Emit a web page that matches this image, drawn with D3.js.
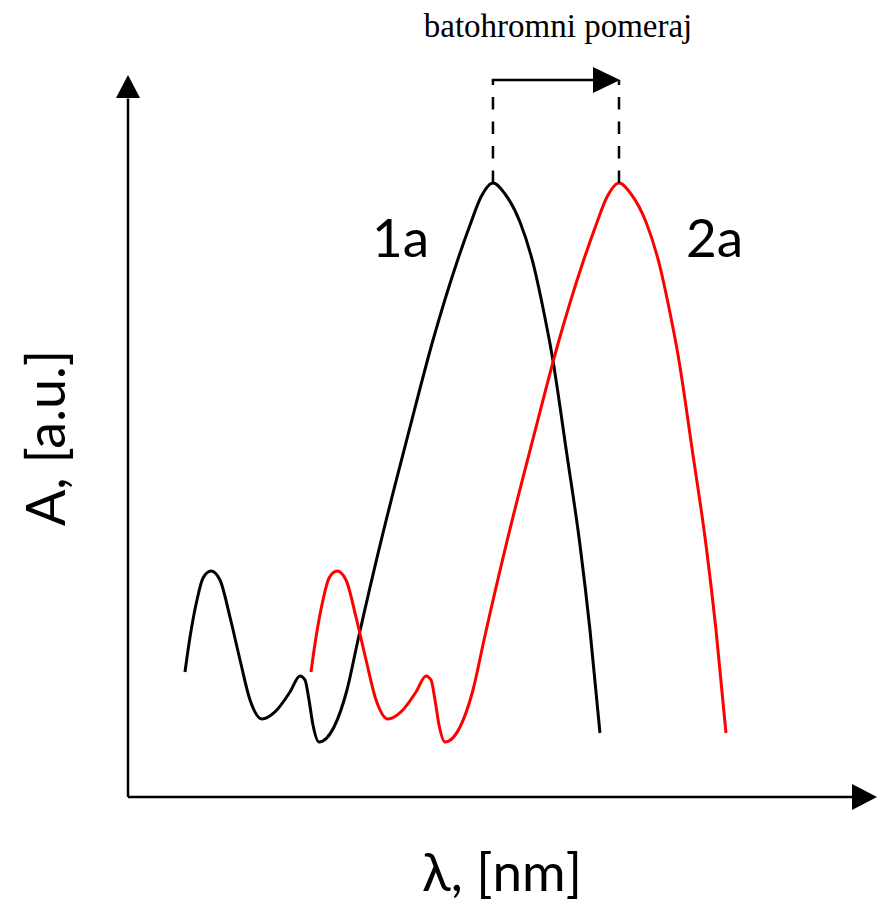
<!DOCTYPE html>
<html>
<head>
<meta charset="utf-8">
<script src="https://cdn.jsdelivr.net/npm/d3@7"></script>
<style>
  body { margin: 0; background: #fff; }
  text { fill: #000; }
</style>
</head>
<body>
<svg id="chart" width="885" height="908"></svg>
<script>
// spectrum 1a (black)
const lambda1a = [7.70, 8.38, 9.32, 10.14, 11.22, 12.43, 13.78, 15.14, 16.49, 18.11, 19.86, 21.89, 23.24, 23.92, 24.46, 25.00, 25.81, 27.84, 29.59, 31.08, 34.46, 37.84, 41.22, 44.46, 46.22, 47.70, 49.32, 50.95, 52.97, 54.73, 56.08, 57.30, 59.32, 61.08, 62.43, 63.78];
const abs1a    = [17.36, 22.22, 27.36, 30.42, 31.39, 30.14, 25.00, 19.03, 13.47, 10.83, 11.81, 14.58, 16.81, 16.25, 13.47, 10.00, 7.64, 9.72, 14.86, 21.81, 36.67, 50.28, 63.47, 74.31, 79.44, 83.33, 85.28, 83.75, 79.86, 74.17, 67.92, 61.39, 47.50, 35.00, 23.19, 8.89];

// spectrum 2a (red)
const lambda2a = [24.73, 25.41, 26.35, 27.17, 28.25, 29.46, 30.81, 32.17, 33.52, 35.14, 36.89, 38.92, 40.27, 40.95, 41.49, 42.03, 42.84, 44.87, 46.62, 48.11, 51.49, 54.87, 58.25, 61.49, 63.25, 64.73, 66.35, 67.98, 70.00, 71.76, 73.11, 74.33, 76.35, 78.11, 79.46, 80.81];
const abs2a    = [17.36, 22.22, 27.36, 30.42, 31.39, 30.14, 25.00, 19.03, 13.47, 10.83, 11.81, 14.58, 16.81, 16.25, 13.47, 10.00, 7.64, 9.72, 14.86, 21.81, 36.67, 50.28, 63.47, 74.31, 79.44, 83.33, 85.28, 83.75, 79.86, 74.17, 67.92, 61.39, 47.50, 35.00, 23.19, 8.89];

const seriesNames = ["1a", "2a"];
const seriesColors = ["#000000", "#ff0000"];
const xLabel = "λ, [nm]";
const yLabel = "A, [a.u.]";
const shiftLabel = "batohromni pomeraj";

const svg = d3.select("#chart");
svg.append("rect").attr("width", 885).attr("height", 908).attr("fill", "#fff");

const x = d3.scaleLinear().domain([0, 100]).range([128, 868]);
const y = d3.scaleLinear().domain([0, 100]).range([797, 77]);

// axes with arrow heads
const axisG = svg.append("g").attr("stroke", "#000").attr("fill", "#000");
axisG.append("line")
    .attr("x1", x(0)).attr("x2", x(98))
    .attr("y1", y(0)).attr("y2", y(0))
    .attr("stroke-width", 2.5);
axisG.append("line")
    .attr("x1", x(0)).attr("x2", x(0))
    .attr("y1", y(0)).attr("y2", y(97))
    .attr("stroke-width", 2.5);

const xTip = 877, yTip = 75;
axisG.append("path")
    .attr("stroke", "none")
    .attr("d", `M${xTip},${y(0)} L${xTip - 25},${y(0) - 13} L${xTip - 25},${y(0) + 13} Z`);
axisG.append("path")
    .attr("stroke", "none")
    .attr("d", `M${x(0)},${yTip} L${x(0) - 12},${yTip + 23} L${x(0) + 12},${yTip + 23} Z`);

// curves
const series = [
  { name: seriesNames[0], color: seriesColors[0], pts: lambda1a.map((l, i) => [l, abs1a[i]]) },
  { name: seriesNames[1], color: seriesColors[1], pts: lambda2a.map((l, i) => [l, abs2a[i]]) }
];

const line = d3.line()
    .x(d => x(d[0]))
    .y(d => y(d[1]))
    .curve(d3.curveMonotoneX);

svg.selectAll("path.spectrum")
  .data(series)
  .enter()
  .append("path")
    .attr("class", "spectrum")
    .attr("d", d => line(d.pts))
    .attr("fill", "none")
    .attr("stroke", d => d.color)
    .attr("stroke-width", 3)
    .attr("stroke-linejoin", "round");

// series labels
const labelPos = [[372, 257], [686, 257]];
svg.selectAll("text.series")
  .data(series)
  .enter()
  .append("text")
    .attr("class", "series")
    .attr("x", (d, i) => labelPos[i][0])
    .attr("y", (d, i) => labelPos[i][1])
    .style("font-family", "Lato, 'Noto Sans', sans-serif")
    .style("font-size", "53px")
    .text(d => d.name);

// bathochromic shift marker
const peaks = series.map(s => s.pts.reduce((a, b) => (b[1] > a[1] ? b : a)));
const arrowY = 80;
peaks.forEach(p => {
  svg.append("line")
      .attr("x1", x(p[0])).attr("x2", x(p[0]))
      .attr("y1", y(p[1])).attr("y2", arrowY)
      .attr("stroke", "#000")
      .attr("stroke-width", 2.5)
      .attr("stroke-dasharray", "12.5,12");
});
const ax0 = x(peaks[0][0]), ax1 = x(peaks[1][0]);
svg.append("line")
    .attr("x1", ax0 - 1.25).attr("x2", ax1 - 24)
    .attr("y1", arrowY).attr("y2", arrowY)
    .attr("stroke", "#000")
    .attr("stroke-width", 2.7);
svg.append("path")
    .attr("d", `M${ax1 + 1},${arrowY} L${ax1 - 26},${arrowY - 13} L${ax1 - 26},${arrowY + 13} Z`)
    .attr("fill", "#000");

svg.append("text")
    .attr("x", 558)
    .attr("y", 37)
    .attr("text-anchor", "middle")
    .style("font-family", "'Liberation Serif', 'Times New Roman', serif")
    .style("font-size", "33px")
    .text(shiftLabel);

// axis titles
svg.append("text")
    .attr("x", 502)
    .attr("y", 891)
    .attr("text-anchor", "middle")
    .style("font-family", "Lato, 'Noto Sans', sans-serif")
    .style("font-size", "53px")
    .text(xLabel);

svg.append("text")
    .attr("transform", "translate(65,438) rotate(-90)")
    .attr("text-anchor", "middle")
    .style("font-family", "Lato, 'Noto Sans', sans-serif")
    .style("font-size", "54px")
    .text(yLabel);
</script>
</body>
</html>
